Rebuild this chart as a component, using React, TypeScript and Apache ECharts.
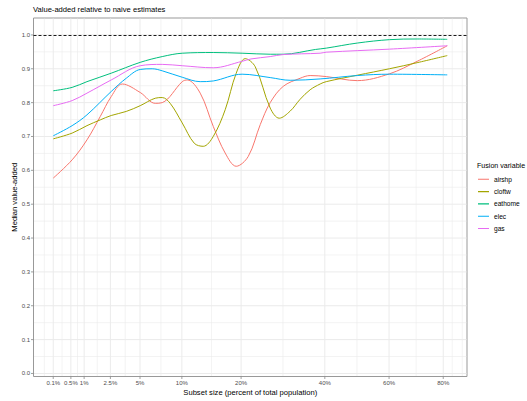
import React, { useEffect, useRef } from "react";
import * as echarts from "echarts";

const FONT = "'Liberation Sans', Arial, Helvetica, sans-serif";

const seriesNames = ["airshp", "cloftw", "eathome", "elec", "gas"];
const seriesColors = ["#F8766D", "#A3A500", "#00BF7D", "#00B0F6", "#E76BF3"];

// x values are subset size in percent, y values are median value-added
const airshpX = [0.1, 0.54, 1.13, 1.84, 2.56, 3.4, 5.02, 6.62, 7.44, 10.05, 10.76, 12.73, 14.87, 16.98, 19.05, 21.44, 23.97, 26.18, 29.2, 33.4, 36.0, 40.4, 49.6, 60.1, 70.0, 81.6];
const airshpY = [0.577, 0.631, 0.69, 0.759, 0.818, 0.855, 0.83, 0.798, 0.8, 0.862, 0.867, 0.828, 0.73, 0.651, 0.612, 0.641, 0.735, 0.8, 0.848, 0.872, 0.88, 0.877, 0.865, 0.885, 0.922, 0.968];

const cloftwX = [0.1, 0.54, 1.13, 1.84, 2.56, 3.73, 5.02, 6.62, 7.44, 8.43, 10.05, 11.81, 13.21, 14.87, 16.98, 19.05, 20.83, 22.9, 26.18, 28.26, 30.9, 33.4, 36.0, 38.7, 40.4, 49.6, 60.1, 70.0, 81.6];
const cloftwY = [0.693, 0.71, 0.732, 0.749, 0.762, 0.774, 0.791, 0.813, 0.815, 0.798, 0.74, 0.68, 0.671, 0.7, 0.779, 0.887, 0.93, 0.906, 0.784, 0.754, 0.775, 0.81, 0.838, 0.855, 0.862, 0.881, 0.9, 0.918, 0.939];

const eathomeX = [0.1, 0.54, 1.13, 2.56, 5.02, 7.44, 10.05, 14.87, 20.2, 26.18, 29.2, 37.4, 40.4, 49.6, 60.1, 70.0, 81.6];
const eathomeY = [0.835, 0.845, 0.862, 0.887, 0.919, 0.936, 0.946, 0.948, 0.946, 0.943, 0.943, 0.957, 0.961, 0.976, 0.986, 0.988, 0.987];

const elecX = [0.1, 0.54, 1.13, 2.56, 3.73, 5.02, 6.28, 7.44, 10.05, 12.73, 14.87, 20.2, 26.18, 30.9, 38.7, 49.6, 60.1, 81.6];
const elecY = [0.702, 0.732, 0.764, 0.833, 0.872, 0.898, 0.9, 0.894, 0.875, 0.862, 0.864, 0.884, 0.874, 0.866, 0.87, 0.88, 0.884, 0.882];

const gasX = [0.1, 0.54, 1.13, 2.56, 5.02, 7.44, 10.05, 14.87, 20.2, 22.0, 26.18, 29.2, 38.7, 40.4, 60.1, 81.6];
const gasY = [0.791, 0.806, 0.828, 0.867, 0.909, 0.913, 0.909, 0.903, 0.922, 0.929, 0.936, 0.942, 0.946, 0.949, 0.958, 0.968];

const seriesX = [airshpX, cloftwX, eathomeX, elecX, gasX];
const seriesY = [airshpY, cloftwY, eathomeY, elecY, gasY];

const xTickValues = [0.1, 0.5, 1, 2.5, 5, 10, 20, 40, 60, 80];
const xTickLabels = ["0.1%", "0.5%", "1%", "2.5%", "5%", "10%", "20%", "40%", "60%", "80%"];
const xExtraMinor = [83.6, 87.7];

const yTickValues = [0, 0.1, 0.2, 0.3, 0.4, 0.5, 0.6, 0.7, 0.8, 0.9, 1.0];
const yTickLabels = ["0.0", "0.1", "0.2", "0.3", "0.4", "0.5", "0.6", "0.7", "0.8", "0.9", "1.0"];
const yMinorValues = [0.05, 0.15, 0.25, 0.35, 0.45, 0.55, 0.65, 0.75, 0.85, 0.95];
const referenceLine = 1.0;

const X_MIN = -0.12;
const X_MAX = 9.47;
const Y_MIN = -0.009;
const Y_MAX = 1.05;

const LEGEND_LINE_ICON =
  "path://M0,0h0.01v0.01h-0.01z M0,4.45h11v1.1h-11z M0,9.99h0.01v0.01h-0.01z";

export default function App() {
  const ref = useRef<HTMLDivElement>(null);

  useEffect(() => {
    if (!ref.current) return;
    const chart = echarts.init(ref.current, undefined, { renderer: "svg" });

    const sx = xTickValues.map((p) => Math.sqrt(p));
    const xMinor: number[] = [];
    xMinor.push(sx[0] - (sx[1] - sx[0]) / 2);
    for (let i = 0; i < sx.length - 1; i++) xMinor.push((sx[i] + sx[i + 1]) / 2);
    xExtraMinor.forEach((p) => xMinor.push(Math.sqrt(p)));

    const lineSeries = seriesNames.map((name, i) => ({
      name,
      type: "line",
      data: seriesX[i].map((p, j) => [Math.sqrt(p), seriesY[i][j]]),
      smooth: 0.35,
      symbol: "none",
      showSymbol: false,
      z: 5,
      lineStyle: { color: seriesColors[i], width: 1 },
      itemStyle: { color: seriesColors[i] },
      ...(i === 0
        ? {
            markLine: {
              silent: true,
              symbol: "none",
              label: { show: false },
              lineStyle: { color: "#1a1a1a", type: [3, 2], width: 1 },
              data: [{ yAxis: referenceLine }],
            },
          }
        : {}),
    }));

    const option: any = {
      animation: false,
      textStyle: { fontFamily: FONT },
      title: [
        {
          text: "Value-added relative to naive estimates",
          left: 33,
          top: 5.5,
          padding: 0,
          textStyle: { fontSize: 7.6, fontWeight: "normal", color: "#000", fontFamily: FONT },
        },
        {
          text: "Fusion variable",
          left: 477,
          top: 162,
          padding: 0,
          textStyle: { fontSize: 7.1, fontWeight: "normal", color: "#000", fontFamily: FONT },
        },
      ],
      legend: {
        data: seriesNames,
        orient: "vertical",
        left: 478,
        top: 174.3,
        padding: 0,
        icon: LEGEND_LINE_ICON,
        itemWidth: 11,
        itemHeight: 10,
        itemGap: 2.3,
        textStyle: { fontSize: 6.6, color: "#000", fontFamily: FONT },
        selectedMode: false,
      },
      grid: {
        left: 33.5,
        top: 18,
        right: 60,
        bottom: 24,
        show: true,
        borderColor: "#999999",
        borderWidth: 1,
        backgroundColor: "#fff",
      },
      xAxis: {
        type: "value",
        min: X_MIN,
        max: X_MAX,
        axisLine: { show: false },
        axisTick: { show: false },
        axisLabel: { show: false },
        splitLine: { show: false },
        name: "Subset size (percent of total population)",
        nameLocation: "middle",
        nameGap: 11.5,
        nameTextStyle: { fontSize: 7.6, color: "#000", fontFamily: FONT },
      },
      yAxis: {
        type: "value",
        min: Y_MIN,
        max: Y_MAX,
        axisLine: { show: false },
        axisTick: { show: false },
        axisLabel: { show: false },
        splitLine: { show: false },
        name: "Median value-added",
        nameLocation: "middle",
        nameGap: 15,
        nameTextStyle: { fontSize: 7.6, color: "#000", fontFamily: FONT },
      },
      series: [
        {
          type: "custom",
          name: "_xminor",
          silent: true,
          z: 1,
          data: xMinor.map((v) => [v, 0]),
          renderItem: (params: any, api: any) => {
            const cs = params.coordSys;
            const x = api.coord([api.value(0), 0])[0];
            return {
              type: "line",
              shape: { x1: x, y1: cs.y + 0.5, x2: x, y2: cs.y + cs.height - 0.5 },
              style: { stroke: "#ebebeb", lineWidth: 0.6 },
            };
          },
        },
        {
          type: "custom",
          name: "_yminor",
          silent: true,
          z: 1,
          data: yMinorValues.map((v) => [0, v]),
          renderItem: (params: any, api: any) => {
            const cs = params.coordSys;
            const y = api.coord([0, api.value(1)])[1];
            return {
              type: "line",
              shape: { x1: cs.x + 0.5, y1: y, x2: cs.x + cs.width - 0.5, y2: y },
              style: { stroke: "#ebebeb", lineWidth: 0.6 },
            };
          },
        },
        {
          type: "custom",
          name: "_xmajor",
          silent: true,
          z: 2,
          data: sx.map((v) => [v, 0]),
          renderItem: (params: any, api: any) => {
            const cs = params.coordSys;
            const x = api.coord([api.value(0), 0])[0];
            const bottom = cs.y + cs.height;
            return {
              type: "group",
              children: [
                {
                  type: "line",
                  shape: { x1: x, y1: cs.y + 0.5, x2: x, y2: bottom - 0.5 },
                  style: { stroke: "#ebebeb", lineWidth: 1 },
                },
                {
                  type: "line",
                  shape: { x1: x, y1: bottom, x2: x, y2: bottom + 2.5 },
                  style: { stroke: "#888888", lineWidth: 0.8 },
                },
                {
                  type: "text",
                  x,
                  y: bottom + 3.2,
                  style: {
                    text: xTickLabels[params.dataIndex],
                    fill: "#4d4d4d",
                    fontSize: 6,
                    fontFamily: FONT,
                    align: "center",
                    verticalAlign: "top",
                  },
                },
              ],
            };
          },
        },
        {
          type: "custom",
          name: "_ymajor",
          silent: true,
          z: 2,
          data: yTickValues.map((v) => [0, v]),
          renderItem: (params: any, api: any) => {
            const cs = params.coordSys;
            const y = api.coord([0, api.value(1)])[1];
            return {
              type: "group",
              children: [
                {
                  type: "line",
                  shape: { x1: cs.x + 0.5, y1: y, x2: cs.x + cs.width - 0.5, y2: y },
                  style: { stroke: "#ebebeb", lineWidth: 1 },
                },
                {
                  type: "line",
                  shape: { x1: cs.x - 2.5, y1: y, x2: cs.x, y2: y },
                  style: { stroke: "#888888", lineWidth: 0.8 },
                },
                {
                  type: "text",
                  x: cs.x - 3.5,
                  y,
                  style: {
                    text: yTickLabels[params.dataIndex],
                    fill: "#4d4d4d",
                    fontSize: 6,
                    fontFamily: FONT,
                    align: "right",
                    verticalAlign: "middle",
                  },
                },
              ],
            };
          },
        },
        ...lineSeries,
      ],
    };

    chart.setOption(option);
    return () => chart.dispose();
  }, []);

  return (
    <div
      ref={ref}
      style={{ position: "fixed", left: 0, top: 0, width: 527, height: 401, background: "#fff" }}
    />
  );
}
